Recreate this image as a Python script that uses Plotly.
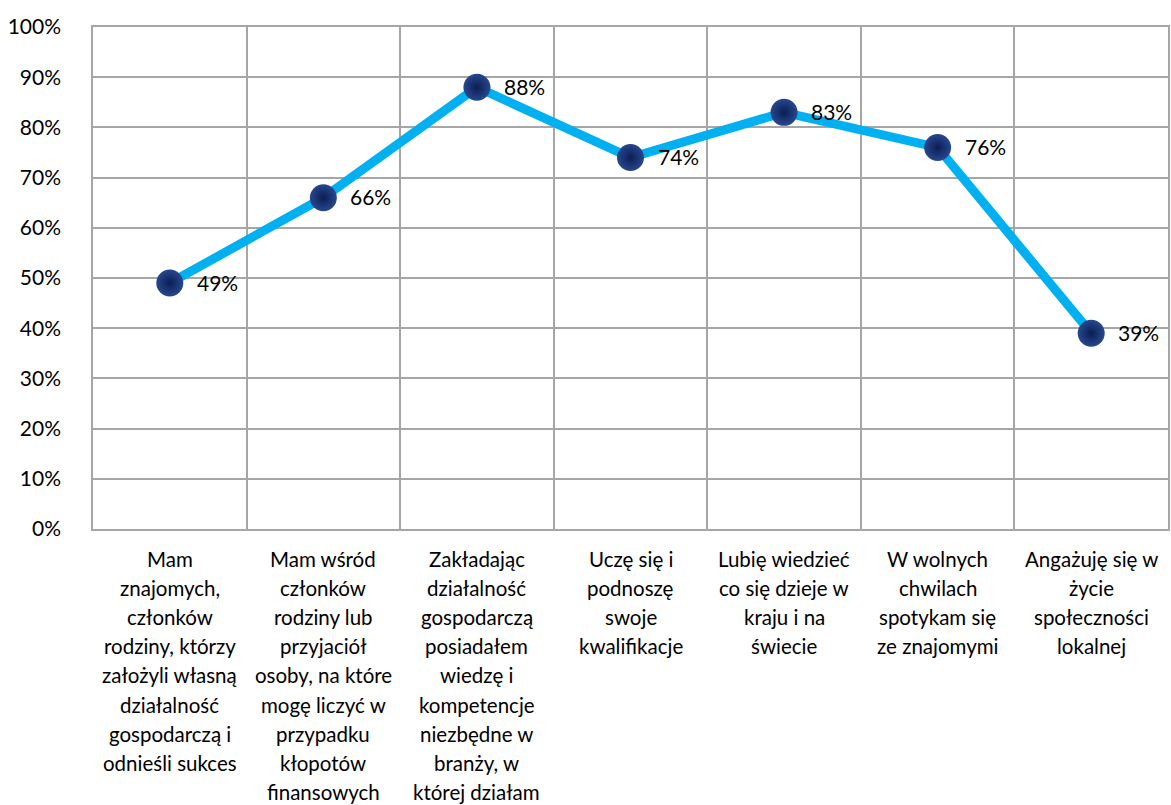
import plotly.graph_objects as go

# Category labels (line breaks as laid out under the axis)
categories = [
    "Mam<br>znajomych,<br>członków<br>rodziny, którzy<br>założyli własną<br>działalność<br>gospodarczą i<br>odnieśli sukces",
    "Mam wśród<br>członków<br>rodziny lub<br>przyjaciół<br>osoby, na które<br>mogę liczyć w<br>przypadku<br>kłopotów<br>finansowych",
    "Zakładając<br>działalność<br>gospodarczą<br>posiadałem<br>wiedzę i<br>kompetencje<br>niezbędne w<br>branży, w<br>której działam",
    "Uczę się i<br>podnoszę<br>swoje<br>kwalifikacje",
    "Lubię wiedzieć<br>co się dzieje w<br>kraju i na<br>świecie",
    "W wolnych<br>chwilach<br>spotykam się<br>ze znajomymi",
    "Angażuję się w<br>życie<br>społeczności<br>lokalnej",
]
values = [0.49, 0.66, 0.88, 0.74, 0.83, 0.76, 0.39]
y_ticks = [0, 0.1, 0.2, 0.3, 0.4, 0.5, 0.6, 0.7, 0.8, 0.9, 1.0]

FONT = "Lato"
TEXT_COLOR = "#000000"
GRID = "#A6A6A6"

xs = list(range(len(categories)))

fig = go.Figure()
fig.add_trace(go.Scatter(
    x=xs,
    y=values,
    mode="lines+markers",
    line=dict(color="#00B0F0", width=9),
    marker=dict(
        size=27,
        color="#27478F",
        gradient=dict(type="radial", color="#0B1E52"),
        line=dict(width=0),
    ),
    cliponaxis=False,
    hoverinfo="skip",
    showlegend=False,
))

annotations = []

# Value labels to the right of each point
for x, v in zip(xs, values):
    annotations.append(dict(
        x=x, y=v, xref="x", yref="y",
        xanchor="left", yanchor="middle",
        xshift=25, yshift=1,
        text=f"{round(v * 100)}%", showarrow=False,
        font=dict(family=FONT, size=21, color=TEXT_COLOR),
    ))

# Multi-line category labels beneath the plot, one annotation per line
line_gap = 29.1
for i, label in enumerate(categories):
    for k, line in enumerate(label.split("<br>")):
        annotations.append(dict(
            x=i, xref="x", y=0, yref="paper",
            yanchor="middle", xanchor="center",
            yshift=-(30 + k * line_gap),
            text=line, showarrow=False,
            font=dict(family=FONT, size=20.5, color=TEXT_COLOR),
        ))

fig.update_layout(
    width=1171,
    height=805,
    margin=dict(l=93, r=1, t=27, b=276),
    paper_bgcolor="white",
    plot_bgcolor="white",
    font=dict(family=FONT, size=20, color=TEXT_COLOR),
    annotations=annotations,
    xaxis=dict(
        range=[-0.5, len(categories) - 0.5],
        showticklabels=False,
        showgrid=False,
        zeroline=False,
        showline=True,
        mirror=True,
        linecolor=GRID,
        linewidth=1.5,
        ticks="",
        minor=dict(
            tickvals=[i - 0.5 for i in range(len(categories) + 1)],
            showgrid=True,
            gridcolor=GRID,
            gridwidth=1.5,
            ticks="",
        ),
        fixedrange=True,
    ),
    yaxis=dict(
        range=[0, 1],
        tickvals=y_ticks,
        tickformat=".0%",
        showgrid=True,
        gridcolor=GRID,
        gridwidth=1.5,
        zeroline=False,
        showline=True,
        mirror=True,
        linecolor=GRID,
        linewidth=1.5,
        ticks="",
        ticklabelstandoff=26,
        tickfont=dict(family=FONT, size=21, color=TEXT_COLOR),
        fixedrange=True,
    ),
)

fig.write_html("out.html")
